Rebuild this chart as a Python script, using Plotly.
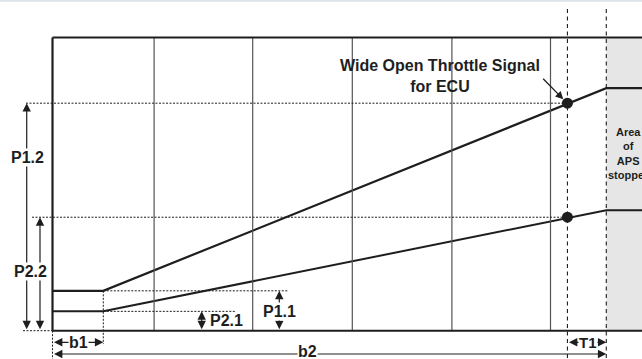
import plotly.graph_objects as go

# ---- data (x: travel units, y: % output) ----
path_x = [0, 0.51, 5.56, 6.5]          # idle end (b1), stopper start, beyond
app1_y = [13.6, 13.6, 82.7, 82.7]      # APS 1 output
app2_y = [6.6, 6.6, 41.1, 41.1]        # APS 2 output
grid_x = [1.02, 2.01, 3.01, 4.01, 5.0]
b1_x = 0.51
wot_x = 5.17
stop_x = 5.56
wot_y = [77.6, 38.7]                   # P1.2, P2.2 levels
p11 = 13.6
p21 = 6.6
top_y = 100

PX_X0, PX_SX = 52.5, 99.6              # pixel mapping helpers for ranges only
PX_Y0, PX_SY = 330.7, 2.932
W, H = 642, 359
xr = [(0 - PX_X0) / PX_SX, (W - PX_X0) / PX_SX]
yr = [(PX_Y0 - H) / PX_SY, PX_Y0 / PX_SY]

def ux(px):
    return (px - PX_X0) / PX_SX

def vy(py):
    return (PX_Y0 - py) / PX_SY

INK = "#1e1e1e"
FONT = "Liberation Sans, Arial, sans-serif"

fig = go.Figure()
shapes = []
# gray stopper area
shapes.append(dict(type="rect", xref="x", yref="y", x0=stop_x, x1=xr[1] + 1, y0=0, y1=top_y,
                   fillcolor="#e6e6e6", line=dict(width=0), layer="below"))
# top light strip
shapes.append(dict(type="line", xref="paper", yref="paper", x0=0, x1=1, y0=0.998, y1=0.998,
                   line=dict(color="#dde3ea", width=2)))
# grid lines
for gx in grid_x:
    shapes.append(dict(type="line", x0=gx, x1=gx, y0=0, y1=top_y, line=dict(color="#555555", width=1.2)))
# box
shapes.append(dict(type="line", x0=0, x1=xr[1] + 1, y0=top_y, y1=top_y, line=dict(color=INK, width=2)))
shapes.append(dict(type="line", x0=0, x1=xr[1] + 1, y0=0, y1=0, line=dict(color=INK, width=2)))
shapes.append(dict(type="line", x0=0, x1=0, y0=0, y1=top_y, line=dict(color=INK, width=2.2)))
# dashed verticals (T1)
for dx in [wot_x, stop_x]:
    shapes.append(dict(type="line", x0=dx, x1=dx, y0=vy(9), y1=yr[0], line=dict(color=INK, width=1.1, dash="4px,3.5px")))
dot = dict(color=INK, width=1, dash="2px,1.5px")
# dotted guides
shapes.append(dict(type="line", x0=ux(26), x1=wot_x, y0=wot_y[0], y1=wot_y[0], line=dot))
shapes.append(dict(type="line", x0=ux(32), x1=wot_x, y0=wot_y[1], y1=wot_y[1], line=dot))
shapes.append(dict(type="line", x0=ux(23), x1=0, y0=0, y1=0, line=dot))
shapes.append(dict(type="line", x0=b1_x, x1=ux(288), y0=p11, y1=p11, line=dot))
shapes.append(dict(type="line", x0=b1_x, x1=ux(235), y0=p21, y1=p21, line=dot))
shapes.append(dict(type="line", x0=b1_x, x1=b1_x, y0=p11, y1=vy(344), line=dot))
shapes.append(dict(type="line", x0=0, x1=0, y0=0, y1=yr[0], line=dot))

fig.add_trace(go.Scatter(x=path_x, y=app1_y, mode="lines", line=dict(color=INK, width=2.2), hoverinfo="skip"))
fig.add_trace(go.Scatter(x=path_x, y=app2_y, mode="lines", line=dict(color=INK, width=2), hoverinfo="skip"))
fig.add_trace(go.Scatter(x=[wot_x, wot_x], y=wot_y, mode="markers", marker=dict(color=INK, size=11), hoverinfo="skip"))

ann = []

def arrow(x0, y0, x1, y1, both=True):
    ann.append(dict(x=x1, y=y1, ax=x0, ay=y0, xref="x", yref="y", axref="x", ayref="y",
                    text="", showarrow=True, arrowhead=2, startarrowhead=2, arrowsize=1.4,
                    startarrowsize=1.4, arrowwidth=1.2, arrowcolor=INK,
                    arrowside="end+start" if both else "end", standoff=0, startstandoff=0))

def label(x, y, t, size=16, bg="white"):
    ann.append(dict(x=x, y=y, xref="x", yref="y", text="<b>%s</b>" % t, showarrow=False,
                    font=dict(family=FONT, size=size, color=INK), bgcolor=bg, borderpad=0))

arrow(ux(26.7), 0, ux(26.7), wot_y[0])
arrow(ux(40), 0, ux(40), wot_y[1])
arrow(ux(201.7), 0, ux(201.7), p21)
arrow(ux(279.3), 0, ux(279.3), p11)
arrow(0, vy(342.3), b1_x, vy(342.3))
arrow(0, vy(354), stop_x, vy(354))
arrow(wot_x, vy(342.3), stop_x, vy(342.3))

label(ux(27), vy(157), "P1.2")
label(ux(30), vy(271.7), "P2.2")
label(ux(226), vy(320), "P2.1", bg="rgba(0,0,0,0)")
label(ux(279), vy(311.7), "P1.1")
label(ux(78), vy(342.3), "b1")
label(ux(307), vy(351.5), "b2")
label(ux(588), vy(342.3), "T1", size=15)

ann.append(dict(x=ux(563.3), y=vy(99.3), ax=ux(541.7), ay=vy(77.3), xref="x", yref="y", axref="x", ayref="y",
                text="", showarrow=True, arrowhead=2, arrowsize=1.2, arrowwidth=1.3, arrowcolor=INK, standoff=0))
ann.append(dict(x=ux(440), y=vy(75.5), xref="x", yref="y", showarrow=False,
                text="<b>Wide Open Throttle Signal<br>for ECU</b>", font=dict(family=FONT, size=16, color=INK)))
ann.append(dict(x=ux(628), y=vy(153), xref="x", yref="y", showarrow=False, align="center",
                text="<b>Area<br>of<br>APS<br>stopper</b>", font=dict(family=FONT, size=11, color=INK)))

fig.update_layout(width=W, height=H, margin=dict(l=0, r=0, t=0, b=0), showlegend=False,
                  paper_bgcolor="white", plot_bgcolor="white", shapes=shapes, annotations=ann,
                  xaxis=dict(range=xr, visible=False, fixedrange=True),
                  yaxis=dict(range=yr, visible=False, fixedrange=True))
fig.write_html("out.html", config={"displayModeBar": False},
               post_script="document.body.style.margin='0';document.body.style.overflow='hidden';")
